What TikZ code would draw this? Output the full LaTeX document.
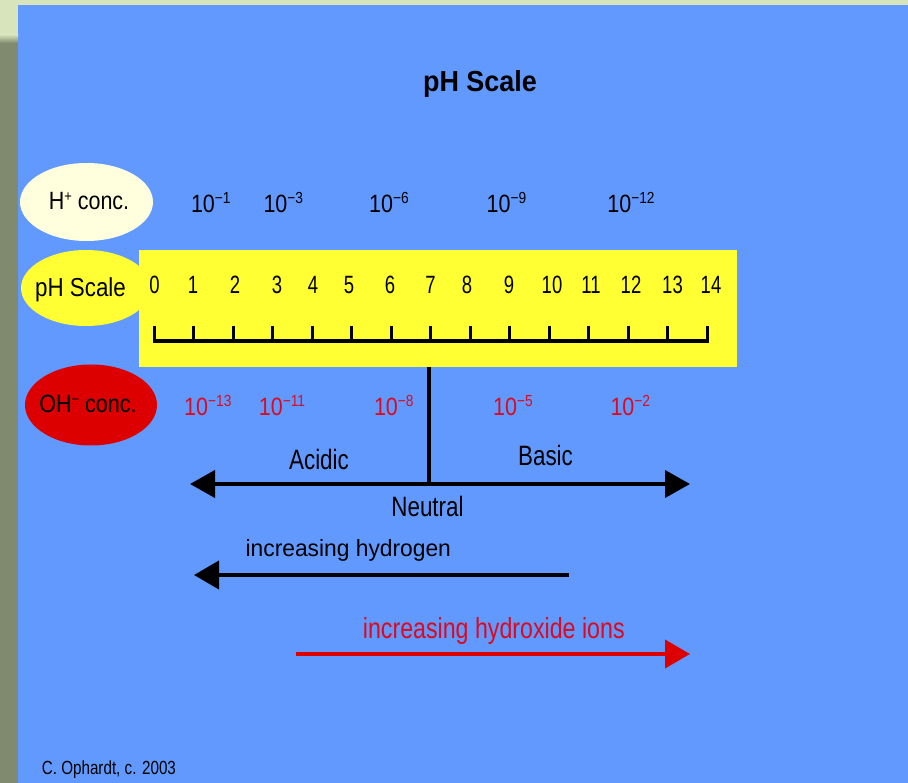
\documentclass[tikz,border=0pt]{standalone}
\usepackage{fontspec}
\setmainfont{Liberation Sans}
\newfontfamily\fA{Liberation Sans}[FakeStretch=0.80]
\newfontfamily\fB{Liberation Sans}[FakeStretch=0.86]
\newfontfamily\fD{Liberation Sans}[FakeStretch=0.74]
\newfontfamily\fN{Liberation Sans}[FakeStretch=0.97]
\newfontfamily\fT{Liberation Sans}[FakeStretch=0.93]
\usetikzlibrary{shapes.geometric,arrows.meta}
\definecolor{bgblue}{RGB}{97,153,255}
\definecolor{stripl}{RGB}{216,228,188}
\definecolor{stripg}{RGB}{128,138,110}
\definecolor{scyellow}{RGB}{255,255,51}
\definecolor{cream}{RGB}{255,255,221}
\definecolor{ellred}{RGB}{221,0,0}
\definecolor{txtred}{RGB}{220,10,30}
\newcommand\fsz[1]{\fontsize{#1}{#1}\selectfont}
\newcommand\sxp[1]{\raisebox{9.5pt}{\fsz{16}#1}}
\tikzset{
  txt/.style={inner sep=0pt, anchor=base},
  ell/.style={ellipse, inner sep=0pt, draw=none},
  ticks/.style={line width=3pt},
  bigarrow/.style={line width=4pt, {Triangle[length=25pt,width=27pt]}-{Triangle[length=25pt,width=27pt]}},
  onearrow/.style={line width=4pt, -{Triangle[length=25pt,width=28pt]}},
}
\begin{document}
\begin{tikzpicture}[x=1pt,y=-1pt]
\useasboundingbox (0,0) rectangle (908,783);
% background
\fill[bgblue] (0,0) rectangle (908,783);
\fill[stripl] (0,0) rectangle (908,5);
\fill[stripg] (0,35) rectangle (18,783);
\fill[stripl] (0,0) rectangle (18,35);
\shade[top color=stripl, bottom color=stripg] (0,34.5) rectangle (18,43);
% title
\node[txt, font=\fT\bfseries\fsz{29}] (title) at (480,91.7) {pH Scale};
% ellipses
\node[ell, fill=cream, minimum width=133pt, minimum height=78pt] (hconc) at (86.5,202) {};
\node[txt, font=\fB\fsz{25}] (hconctxt) at (89,210) {H\raisebox{8.5pt}{\fsz{15}+} conc.};
\node[ell, fill=scyellow, minimum width=130pt, minimum height=76pt] (phell) at (86,288) {};
\node[ell, fill=ellred, minimum width=132pt, minimum height=81pt] (ohconc) at (91,405) {};
\node[txt, font=\fB\fsz{25}] (ohconctxt) at (88,413) {OH\raisebox{8.5pt}{\fsz{15}\textminus} conc.};
% yellow scale bar
\node[rectangle, fill=scyellow, inner sep=0pt, anchor=north west, minimum width=598pt, minimum height=117pt] (scalebar) at (139,250) {};
\node[txt, font=\fB\fsz{26}] (phtxt) at (80.5,296.7) {pH Scale};
\foreach \n/\x in {0/154.5,1/193,2/235,3/277,4/313,5/349,6/390,7/430.5,8/467,9/509,10/552,11/591,12/631,13/672.5,14/711}
  \node[txt, font=\fD\fsz{25}] (d\n) at (\x,293.3) {\n};
\foreach \i in {0,...,14}
  \draw[ticks] ({154.5+39.48*\i},326) -- ({154.5+39.48*\i},341);
\draw[line width=4pt] (153,341) -- (709,341);
% H+ concentrations
\foreach \nm/\x/\e in {ha/210.8/\textminus1, hb/283.3/\textminus3, hc/389/\textminus6, hd/506.5/\textminus9, he/631/\textminus12}
  \node[txt, font=\fB\fsz{25}] (\nm) at (\x,213) {10\sxp{\e}};
% OH- concentrations
\foreach \nm/\x/\e in {oa/207.8/\textminus13, ob/282/\textminus11, oc/393.8/\textminus8, od/513/\textminus5, oe/630.3/\textminus2}
  \node[txt, font=\fB\fsz{25}, text=txtred] (\nm) at (\x,416) {10\sxp{\e}};
% neutral line and main arrow
\coordinate (ntop) at (429,367);
\coordinate (nbot) at (429,484);
\coordinate (aleft) at (190,484);
\coordinate (aright) at (690,484);
\draw[line width=3.5pt] (ntop) -- (nbot);
\draw[bigarrow] (aleft) -- (aright);
\node[txt, font=\fA\fsz{28}] (acidic) at (319,469.3) {Acidic};
\node[txt, font=\fA\fsz{28}] (basic) at (545.5,465) {Basic};
\node[txt, font=\fA\fsz{28}] (neutral) at (427.5,516) {Neutral};
% increasing hydrogen
\node[txt, font=\fN\fsz{23.5}] (inch) at (348.3,556.7) {increasing hydrogen};
\coordinate (hstart) at (569,575);
\coordinate (hend) at (194,575);
\draw[onearrow] (hstart) -- (hend);
% increasing hydroxide
\node[txt, font=\fA\fsz{29}, text=txtred] (incoh) at (493.8,638.3) {increasing hydroxide ions};
\coordinate (ostart) at (296,654);
\coordinate (oend) at (690,654);
\draw[onearrow, draw=ellred, fill=ellred] (ostart) -- (oend);
% credit
\node[txt, anchor=base west, font=\fA\fsz{19}] (credit) at (41.7,774) {C. Ophardt, c. 2003};
\end{tikzpicture}
\end{document}
